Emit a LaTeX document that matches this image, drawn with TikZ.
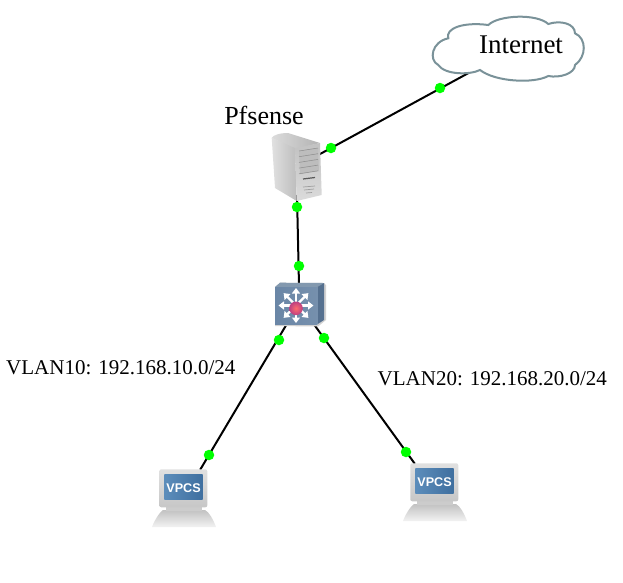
\documentclass[tikz,border=0pt]{standalone}
\usepackage{fontspec}
\setmainfont{Liberation Serif}
\setsansfont{Liberation Sans}
\usetikzlibrary{arrows.meta}
\definecolor{cloudline}{HTML}{7A9299}
\definecolor{dotgreen}{HTML}{00FF00}
\definecolor{swfront}{HTML}{6A86A6}
\definecolor{swfrontb}{HTML}{7690AD}
\definecolor{swtop}{HTML}{8399AF}
\definecolor{swside}{HTML}{55708F}
\definecolor{screena}{HTML}{5C8DBB}
\definecolor{screenb}{HTML}{3F6F9F}
\tikzset{
  link/.style={draw=black,line width=2pt},
  dot/.style={circle,fill=dotgreen,draw=none,minimum size=10.5pt,inner sep=0pt},
  hub/.style={inner sep=0pt,minimum size=0pt},
  label20/.style={inner sep=0pt,anchor=base west,font=\fontsize{21}{24}\selectfont},
  whitearrow/.style={draw=white,line width=2.2pt,-{Triangle[length=5.5pt,width=8pt,fill=white]}},
  pcicon/.pic={
    \shade[top color=black!24,bottom color=black!5] (152,527) .. controls (155,519) and (160,512) .. (163,510) -- (205,510) .. controls (209,512) and (213,519) .. (216,527) -- cycle;
    \fill[black!20] (166,506) rectangle (202,511);
    \shade[rounded corners=2pt,top color=black!12,bottom color=black!22] (159.3,469.3) rectangle (207.3,507.3);
    \shade[left color=screena,right color=screenb] (164.3,474) rectangle (202.7,499.3);
    \node[text=white,font=\sffamily\bfseries\fontsize{12.6}{13}\selectfont,inner sep=0pt] at (183.5,488) {VPCS};
  }
}
\begin{document}
\begin{tikzpicture}[x=1pt,y=-1pt]
\useasboundingbox (0,0) rectangle (623,582);
% anchors of the icons
\node[hub] (cloud) at (474,70) {};
\node[hub] (serverR) at (316,156.2) {};
\node[hub] (serverB) at (297,195) {};
\node[hub] (switchT) at (299,286) {};
\node[hub] (switchL) at (288,322) {};
\node[hub] (switchR) at (313,323) {};
\node[hub] (pcA) at (200,470) {};
\node[hub] (pcB) at (415,464) {};
% connectors
\draw[link] (serverR) -- (cloud);
\draw[link] (serverB) -- (switchT);
\draw[link] (switchL) -- (pcA);
\draw[link] (switchR) -- (pcB);
% cloud
\draw[draw=cloudline,line width=2pt,fill=white]
  (448.3,38.3) .. controls (445,28.3) and (463.3,21.7) .. (488.3,25)
  .. controls (498.3,15) and (536.7,13.3) .. (548.3,24)
  .. controls (560,20) and (575,23.3) .. (575,33.3)
  .. controls (586.7,38.3) and (586.7,56.7) .. (575,65)
  .. controls (575,73.3) and (560,78.3) .. (548.3,76)
  .. controls (533.3,84) and (495,81.7) .. (480,70)
  .. controls (470,75) and (445,75) .. (438.3,65)
  .. controls (428.3,60) and (431.7,41.7) .. (448.3,38.3) -- cycle;
\node[inner sep=0pt,anchor=base,font=\fontsize{27}{30}\selectfont] (internet) at (521,53) {Internet};
% server
\shade[left color=black!14,right color=black!30] (271.7,138) .. controls (273,135) and (280,133) .. (288,133) -- (320,143) -- (295,149) -- cycle;
\shade[left color=black!12,right color=black!26] (271.7,138) -- (295,148) -- (296.7,201) -- (275,188) -- cycle;
\shade[top color=black!24,bottom color=black!14] (295,148) -- (320,143) -- (321.7,195) -- (296.7,201) -- cycle;
\fill[black!26] (299,151) -- (318,148) -- (319,171) -- (300,174) -- cycle;
\foreach \yy in {0,1,2,3,4}{
  \draw[black!45,line width=.5pt] (299,{151+5.7*\yy}) -- (318,{148+5.7*\yy});
}
\draw[black!65,line width=1.2pt] (303,179) -- (315,177.5);
\draw[black!38,line width=.7pt] (303,187) -- (315,186);
\draw[black!38,line width=.7pt] (304,190) -- (314,189);
\draw[black!38,line width=.7pt] (306,193) -- (312,192.5);
% switch
\fill[black!18] (275,326) -- (275,287) -- (280,282.7) -- (324,283) -- (326,285) -- (326,320) -- (318,326.5) -- cycle;
\fill[swtop] (275,287) -- (280,282.7) -- (324,283) -- (317.3,287) -- cycle;
\fill[swside] (317.3,287) -- (324,283) -- (324,320) -- (317.3,324.3) -- cycle;
\shade[left color=swfront,right color=swfrontb] (275,287) rectangle (317.3,324.3);
\foreach \ang in {0,45,...,315}{
  \draw[whitearrow] (296,305.5) -- ++(\ang:17.5);
}
\shade[inner color=red!58!white,outer color=red!65!blue!75!white] (296,308.3) circle (6.8);
\node[hub] (switch) at (296,305) {};
% computers
\pic (pcone) at (0,0) {pcicon};
\pic (pctwo) at (251,-6) {pcicon};
% dots
\node[dot] (d1) at (440,88) {};
\node[dot] (d2) at (331,148) {};
\node[dot] (d3) at (297,207) {};
\node[dot] (d4) at (299,266) {};
\node[dot] (d5) at (279,340) {};
\node[dot] (d6) at (324,338) {};
\node[dot] (d7) at (209,455) {};
\node[dot] (d8) at (406,452) {};
% labels
\node[inner sep=0pt,anchor=base,font=\fontsize{26}{30}\selectfont] (pf) at (264,124) {Pfsense};
\node[label20] (v10) at (6,374) {VLAN10: 192.168.10.0/24};
\node[label20] (v20) at (377.5,385) {VLAN20: 192.168.20.0/24};
\end{tikzpicture}
\end{document}
